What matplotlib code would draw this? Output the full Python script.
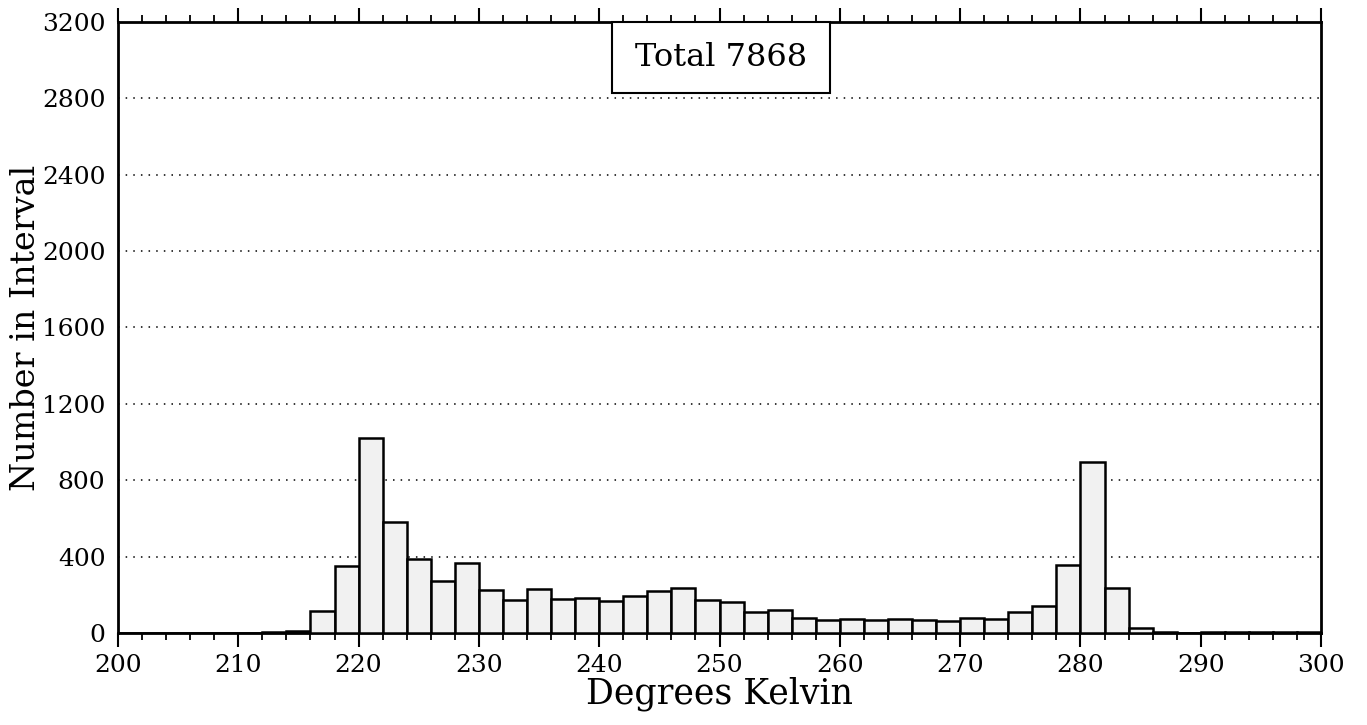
import numpy as np
import matplotlib
matplotlib.use('Agg')
import matplotlib.pyplot as plt
from matplotlib.patches import Rectangle
from matplotlib.ticker import MultipleLocator

plt.rcParams['font.family'] = ['DejaVu Serif']

# histogram of temperatures, 2 K bins from 200 to 300
bin_left = np.arange(200, 300, 2)
counts = [0, 1, 0, 1, 2, 2, 3, 8,
          117, 351, 1021, 583, 387, 274, 366, 223, 171, 229,
          176, 183, 166, 195, 222, 236, 171, 161, 110, 119,
          77, 66, 75, 66, 72, 66, 61, 77, 75, 110,
          140, 357, 895, 236, 26,
          3, 2, 3, 4, 5, 6, 4]
total_label = 'Total 7868'
yticks = [0, 400, 800, 1200, 1600, 2000, 2400, 2800, 3200]
xticks = [200, 210, 220, 230, 240, 250, 260, 270, 280, 290, 300]

fig = plt.figure(figsize=(13.67, 7.25), dpi=100)
ax = fig.add_axes([0.0863, 0.1269, 0.8801, 0.8428])

ax.bar(bin_left, counts, width=2, align='edge', facecolor='#f1f1f1',
       edgecolor='black', linewidth=1.8, zorder=3)

ax.set_xlim(200, 300)
ax.set_ylim(0, 3200)
ax.set_xticks(xticks)
ax.xaxis.set_minor_locator(MultipleLocator(2))
ax.set_yticks(yticks)

for y in yticks[1:-1]:
    ax.axhline(y, color='black', linewidth=1.1, linestyle=(0, (1, 4)), zorder=1)

ax.tick_params(axis='x', which='major', direction='out', length=10, width=1.5,
               labelsize=18, pad=5, top=True)
ax.tick_params(axis='x', which='minor', direction='out', length=5, width=1.3, top=True)
ax.tick_params(axis='y', length=0, labelsize=18, pad=9)

for s in ax.spines.values():
    s.set_linewidth(2)

ax.set_xlabel('Degrees Kelvin', fontsize=25, labelpad=0)
ax.set_ylabel('Number in Interval', fontsize=24, labelpad=0)

# legend box with the total count
ax.add_patch(Rectangle((241.1, 2826), 18.1, 374, facecolor='white',
                       edgecolor='black', linewidth=1.5, zorder=4, clip_on=False))
ax.text(250.15, 3013, total_label, fontsize=23, ha='center', va='center', zorder=5)

fig.savefig('out.png', dpi=100)
